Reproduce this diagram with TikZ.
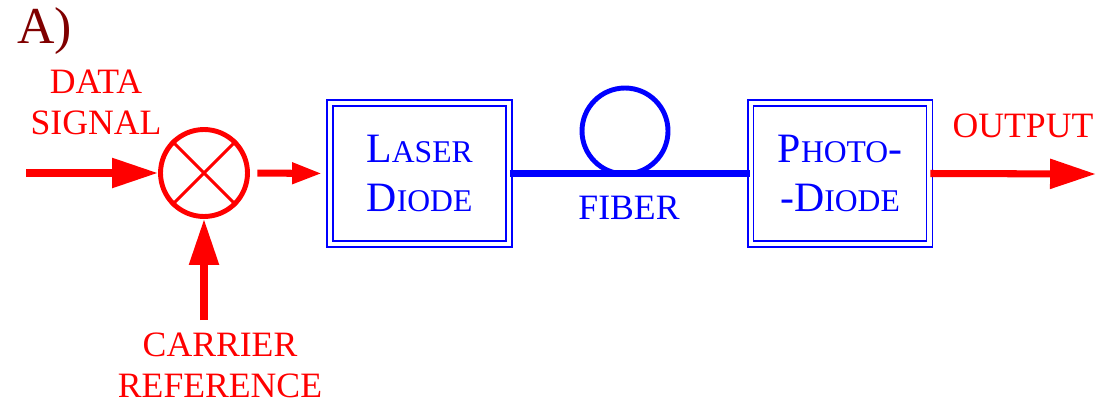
\documentclass[tikz,border=0pt]{standalone}
\usepackage{fontspec}
\setmainfont{Liberation Serif}
\usetikzlibrary{arrows.meta}
\definecolor{sigred}{RGB}{255,0,0}
\definecolor{optblue}{RGB}{0,0,255}
\definecolor{labelmaroon}{RGB}{128,0,0}
% faked small capitals for the box labels
\newcommand\scx[1]{{\fontsize{18}{18}\selectfont #1}}
\begin{document}
\begin{tikzpicture}[x=0.02cm, y=-0.02cm,
  redtext/.style={text=sigred, font=\fontsize{20.3}{23.2}\selectfont, align=center, inner sep=0pt},
  bluetext/.style={text=optblue, font=\fontsize{20.3}{23.2}\selectfont, inner sep=0pt},
  sigline/.style={draw=sigred, line width=4pt},
  fiberline/.style={draw=optblue, line width=4pt},
  optbox/.style={draw=optblue, double, line width=1.1pt, double distance=2.3pt,
    minimum width=3.58cm, minimum height=2.82cm, inner sep=0pt,
    text=optblue, align=center, font=\fontsize{23.8}{27.8}\selectfont},
  mixer/.style={circle, draw=sigred, line width=2.8pt, minimum size=1.74cm, inner sep=0pt},
  coil/.style={circle, draw=optblue, line width=2.8pt, minimum size=1.72cm, inner sep=0pt},
  bighead/.style={-{Triangle[length=0.92cm, width=0.57cm]}},
  smallhead/.style={-{Triangle[length=0.6cm, width=0.4cm]}},
]
\useasboundingbox (0,0) rectangle (1104,399);

% panel label
\node[anchor=base west, inner sep=0pt, text=labelmaroon,
  font=\fontsize{29.5}{29.5}\selectfont] (tag) at (17,43) {A)};

% mixer
\node[mixer] (mix) at (204,173) {};
\draw[draw=sigred, line width=1.7pt] (mix.north east) -- (mix.south west)
  (mix.north west) -- (mix.south east);

% optical blocks
\node[optbox] (laser) at (419.5,173.5) {L\scx{ASER}\\D\scx{IODE}};
\node[optbox] (photo) at (840,173.5) {P\scx{HOTO}-\\-D\scx{IODE}};

% fiber span with its coil
\draw[fiberline] (laser.east) -- (photo.west);
\node[coil] (loop) at (625,131) {};
\node[bluetext, anchor=base] (fiberlbl) at (629,219) {FIBER};

% signal inputs and output
\coordinate (datain) at (26,173);
\coordinate (carrierin) at (204,320);
\coordinate (outtip) at (1096,174);
\draw[sigline, bighead] (datain) -- (mix.west);
\draw[sigline, bighead] (carrierin) -- (mix.south);
\draw[sigline, smallhead, shorten <=0.15cm, shorten >=0.14cm] (mix.east) -- (laser.west);
\draw[sigline, bighead] (photo.east) -- (outtip);

% signal labels (base anchor sits on the last line)
\node[redtext, anchor=base] (datalbl) at (96,134) {DATA\\SIGNAL};
\node[redtext, anchor=base] (carrlbl) at (220,397) {CARRIER\\REFERENCE};
\node[redtext, anchor=base] (outlbl) at (1023,137) {OUTPUT};
\end{tikzpicture}
\end{document}
